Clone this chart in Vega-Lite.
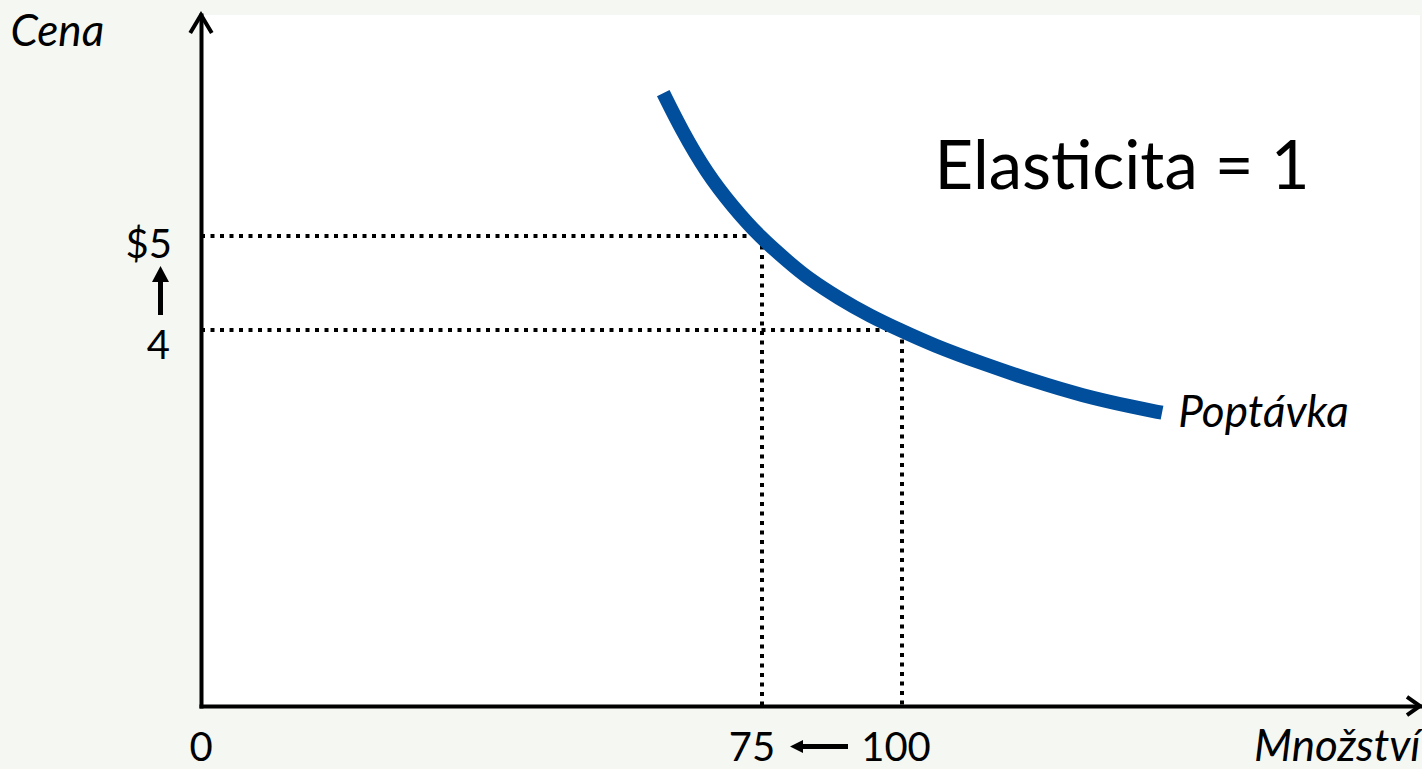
{
  "$schema": "https://vega.github.io/schema/vega-lite/v6.json",
  "width": 1219,
  "height": 691,
  "autosize": {"type": "none"},
  "padding": {"left": 201, "top": 15, "right": 2, "bottom": 63},
  "background": "#f5f7f2",
  "config": {
    "view": {"fill": "white", "stroke": null},
    "font": "Lato",
    "text": {"font": "Lato", "color": "black"}
  },
  "encoding": {
    "x": {
      "field": "x", "type": "quantitative",
      "scale": {"domain": [0, 75, 100, 173.9], "range": [0, 561, 701, 1219], "nice": false, "zero": false},
      "axis": {
        "title": "Množství", "domain": true, "domainColor": "black", "domainWidth": 4, "domainCap": "square",
        "ticks": false, "labels": false, "grid": false,
        "titleFont": "Lato", "titleFontStyle": "italic", "titleFontWeight": "normal", "titleFontSize": 44, "titleColor": "black",
        "titleAlign": "right", "titleBaseline": "alphabetic", "titleX": 1219, "titleY": 54
      }
    },
    "y": {
      "field": "y", "type": "quantitative",
      "scale": {"domain": [0, 7.351], "nice": false, "zero": true},
      "axis": {
        "title": "Cena", "domain": true, "domainColor": "black", "domainWidth": 4, "domainCap": "square",
        "ticks": false, "labels": false, "grid": false,
        "titleFont": "Lato", "titleFontStyle": "italic", "titleFontWeight": "normal", "titleFontSize": 44, "titleColor": "black",
        "titleAngle": 0, "titleAlign": "left", "titleBaseline": "alphabetic", "titleX": -191, "titleY": 30
      }
    }
  },
  "layer": [
    {
      "data": {"values": [
        {"x": 0, "x2": 74.1, "y": 5, "y2": 5},
        {"x": 75, "x2": 75, "y": 5, "y2": 0},
        {"x": 0, "x2": 97.3, "y": 4, "y2": 4},
        {"x": 100, "x2": 100, "y": 4, "y2": 0}
      ]},
      "mark": {"type": "rule", "color": "black", "strokeWidth": 4, "strokeDash": [4, 5.5], "strokeCap": "butt"},
      "encoding": {"x2": {"field": "x2"}, "y2": {"field": "y2"}}
    },
    {
      "data": {"values": [
        {"x": 61.8, "y": 6.52},
        {"x": 64.3, "y": 6.12},
        {"x": 67.6, "y": 5.67},
        {"x": 71.1, "y": 5.31},
        {"x": 74.7, "y": 4.99},
        {"x": 80.0, "y": 4.71},
        {"x": 83.0, "y": 4.56},
        {"x": 88.9, "y": 4.33},
        {"x": 94.3, "y": 4.15},
        {"x": 99.6, "y": 4.0},
        {"x": 104.4, "y": 3.84},
        {"x": 111.6, "y": 3.64},
        {"x": 118.7, "y": 3.46},
        {"x": 125.8, "y": 3.30},
        {"x": 133.0, "y": 3.18},
        {"x": 137.1, "y": 3.12}
      ]},
      "mark": {"type": "line", "color": "#004e9c", "strokeWidth": 14, "strokeCap": "butt", "interpolate": "basis"}
    },
    {
      "data": {"values": [{"x": 0, "y": 7.351}]},
      "mark": {"type": "point", "shape": "M-0.6,1L0,0L0.6,1", "size": 1296, "filled": false, "stroke": "black", "strokeWidth": 4, "strokeJoin": "miter", "opacity": 1}
    },
    {
      "data": {"values": [{"x": 173.9, "y": 0}]},
      "mark": {"type": "point", "shape": "M-1,-0.7L0,0L-1,0.7", "size": 676, "filled": false, "stroke": "black", "strokeWidth": 4, "strokeJoin": "miter", "opacity": 1}
    },
    {
      "data": {"values": [{"x": 0, "y": 4.5}]},
      "mark": {"type": "point", "shape": "M-2.15,1.6L-1.9,1.6L-1.9,-0.05L-1.6,-0.05L-2.025,-0.85L-2.45,-0.05L-2.15,-0.05Z", "size": 1600, "filled": true, "color": "black", "opacity": 1, "strokeWidth": 0}
    },
    {
      "data": {"values": [{"x": 87.5, "y": 0}]},
      "mark": {"type": "point", "shape": "M0.8,1.9L-1.45,1.9L-1.45,1.7L-2.1,2.025L-1.45,2.35L-1.45,2.15L0.8,2.15Z", "size": 1600, "filled": true, "color": "black", "opacity": 1, "strokeWidth": 0}
    },
    {
      "data": {"values": [{"x": 131.4, "y": 5.5, "label": "Elasticita = 1"}]},
      "mark": {"type": "text", "fontSize": 67, "align": "center", "baseline": "alphabetic"},
      "encoding": {"text": {"field": "label"}}
    },
    {
      "data": {"values": [{"x": 139.4, "y": 2.97, "label": "Poptávka"}]},
      "mark": {"type": "text", "fontSize": 44, "fontStyle": "italic", "align": "left", "baseline": "alphabetic"},
      "encoding": {"text": {"field": "label"}}
    },
    {
      "data": {"values": [{"x": 0, "y": 5, "label": "$5"}]},
      "mark": {"type": "text", "fontSize": 40, "align": "right", "baseline": "alphabetic", "dx": -29, "dy": 22},
      "encoding": {"text": {"field": "label"}}
    },
    {
      "data": {"values": [{"x": 0, "y": 4, "label": "4"}]},
      "mark": {"type": "text", "fontSize": 40, "align": "right", "baseline": "alphabetic", "dx": -31, "dy": 29},
      "encoding": {"text": {"field": "label"}}
    },
    {
      "data": {"values": [{"x": 0, "y": 0, "label": "0"}]},
      "mark": {"type": "text", "fontSize": 40, "align": "center", "baseline": "alphabetic", "dy": 55},
      "encoding": {"text": {"field": "label"}}
    },
    {
      "data": {"values": [{"x": 75, "y": 0, "label": "75"}]},
      "mark": {"type": "text", "fontSize": 40, "align": "center", "baseline": "alphabetic", "dx": -10, "dy": 55},
      "encoding": {"text": {"field": "label"}}
    },
    {
      "data": {"values": [{"x": 100, "y": 0, "label": "100"}]},
      "mark": {"type": "text", "fontSize": 40, "align": "center", "baseline": "alphabetic", "dx": -6, "dy": 55},
      "encoding": {"text": {"field": "label"}}
    }
  ]
}
